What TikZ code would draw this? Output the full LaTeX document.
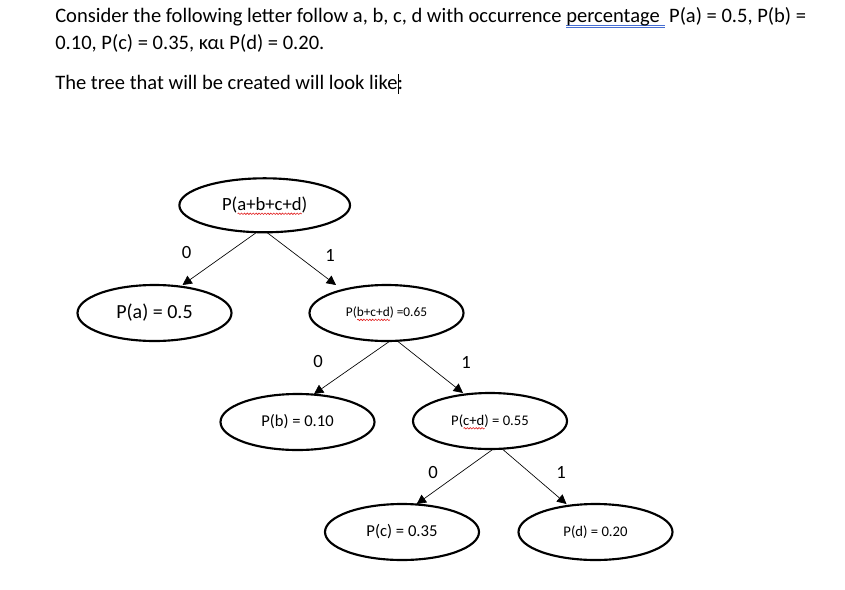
\documentclass[tikz,border=0pt]{standalone}
\usepackage{fontspec}
\setmainfont{Carlito}
\usetikzlibrary{shapes.geometric,arrows.meta,calc,decorations.pathmorphing}

\definecolor{gramblue}{RGB}{70,110,210}
\definecolor{spellred}{RGB}{225,30,30}
\newlength\marklen
% word marks of the screenshot
\newcommand\gram[1]{\settowidth\marklen{#1}\rlap{\color{gramblue}\rule[-2.6pt]{\marklen}{0.55pt}\llap{\rule[-4pt]{\marklen}{0.55pt}}}#1}
\newcommand\spell[1]{\settowidth\marklen{#1}\smash{\rlap{\tikz[baseline=0pt]\draw[spellred,line width=0.45pt,decorate,decoration={snake,segment length=2.2pt,amplitude=0.55pt}] (0pt,-2.2pt) -- (\marklen,-2.2pt);}}#1}
\newcommand\cursor{\rlap{\rule[-3.5pt]{0.6pt}{15pt}}}
\newcommand\fs[1]{\fontsize{#1}{#1}\selectfont}

\begin{document}
\begin{tikzpicture}[x=0.75pt, y=-0.75pt,
  txt/.style={anchor=base west, inner sep=0pt, font=\fs{15.4}},
  prob/.style={draw, ellipse, line width=1.6pt, inner sep=0pt, outer sep=0pt, minimum width=115.5pt, minimum height=42pt},
  bit/.style={font=\fs{14}},
  branch/.style={-{Triangle[width=7pt,length=7pt]}, line width=0.5pt}]
\useasboundingbox (0,0) rectangle (845,589);
% question text
\node[txt] (line1) at (55,22) {Consider the following letter follow a, b, c, d with occurrence \gram{percentage\ } P(a) = 0.5, P(b) =};
\node[txt] (line2) at (55,49) {0.10, P(c) = 0.35, και P(d) = 0.20.};
\node[txt] (line3) at (55,89) {The tree that will be created will look like\cursor:};
% tree
\node[prob, minimum width=128pt, minimum height=40.5pt, font=\fs{14}] (root) at (264.7,205.3) {P(\spell{a+b+c+d})};
\node[prob, font=\fs{15}] (pa) at (154.5,313) {P(a) = 0.5};
\node[prob, font=\fs{10}] (pbcd) at (386.5,313) {P(\spell{b+c+d}) =0.65};
\node[prob, font=\fs{12.4}] (pb) at (297.5,422) {P(b) = 0.10};
\node[prob, font=\fs{11}] (pcd) at (490,421) {P(\spell{c+d}) = 0.55};
\node[prob, font=\fs{12.5}] (pc) at (402,532) {P(c) = 0.35};
\node[prob, font=\fs{11}] (pd) at (595.5,532) {P(d) = 0.20};
\foreach \up/\down/\a/\b in {root/pa/-8/28, root/pbcd/2/-50.5, pbcd/pb/3.5/16.5, pbcd/pcd/10.8/-27, pcd/pc/3.3/14.7, pcd/pd/12.3/-29}
\draw[branch] ($(\up.south)+(\a,0)$) -- ($(\down.north)+(\b,0)$);
% branch bits
\foreach \name/\x/\y/\t in {zeroA/186.7/253/0, oneA/330/255/1, zeroB/318/362/0, oneB/466/362/1, zeroC/433/472/0, oneC/561/472/1}
\node[bit] (\name) at (\x,\y) {\t};
\end{tikzpicture}
\end{document}
